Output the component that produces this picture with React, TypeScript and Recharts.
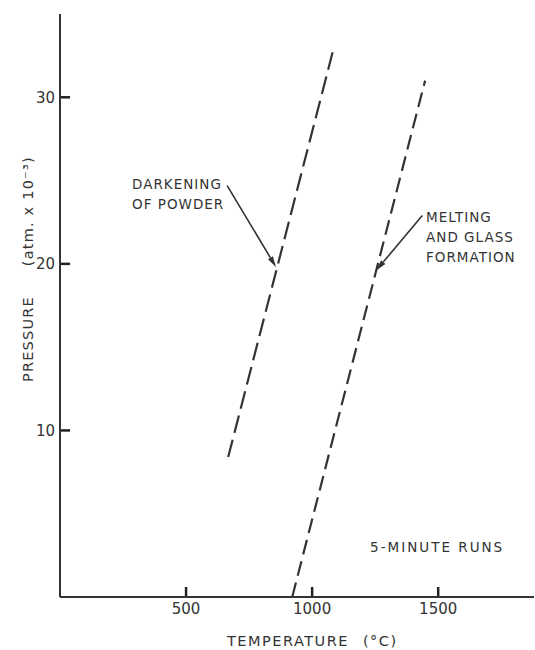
import { LineChart, Line, XAxis, YAxis, ReferenceLine, ReferenceDot } from "recharts";

// tick values
const xTicks = [500, 1000, 1500];
const yTicks = [10, 20, 30];

// boundary lines (temperature °C, pressure atm x 10^-3)
const darkening = [
  { t: 667, p: 8.4 },
  { t: 1083, p: 32.8 },
];
const melting = [
  { t: 921, p: 0 },
  { t: 1448, p: 31.0 },
];

// annotation arrows, data coords
const darkeningArrow = [
  { x: 663, y: 24.7 },
  { x: 857, y: 19.8 },
];
const meltingArrow = [
  { x: 1437, y: 22.9 },
  { x: 1254, y: 19.6 },
];

const darkeningText = ["DARKENING", "OF POWDER"];
const meltingText = ["MELTING", "AND GLASS", "FORMATION"];
const runsText = ["5-MINUTE RUNS"];

const INK = "#333";
const FONT = "DejaVu Sans";

function Arrow(props: any) {
  const { x1, y1, x2, y2 } = props;
  const a = Math.atan2(y2 - y1, x2 - x1);
  const len = 11;
  const half = 2.8;
  const bx = x2 - len * Math.cos(a);
  const by = y2 - len * Math.sin(a);
  const px = -Math.sin(a) * half;
  const py = Math.cos(a) * half;
  return (
    <g>
      <line x1={x1} y1={y1} x2={bx} y2={by} stroke={INK} strokeWidth={1.6} />
      <path d={`M${x2},${y2}L${bx + px},${by + py}L${bx - px},${by - py}Z`} fill={INK} />
    </g>
  );
}

// short inward tick mark = the whole reference segment
function TickMark(props: any) {
  const { x1, y1, x2, y2 } = props;
  return <line x1={x1} y1={y1} x2={x2} y2={y2} stroke="#222" strokeWidth={2.5} />;
}

const textBlock = (lines: string[], spacing: number) => (props: any) => (
  <text x={props.cx} y={props.cy} fill={INK} fontSize={13.5} fontFamily={FONT} letterSpacing={spacing}>
    {lines.map((l, i) => (
      <tspan key={i} x={props.cx} dy={i === 0 ? 0 : 20}>
        {l}
      </tspan>
    ))}
  </text>
);

const xLabel = () => (
  <text x={227} y={646} fill={INK} fontSize={14.5} fontFamily={FONT} letterSpacing={1.5}>
    TEMPERATURE
    <tspan dx={14}>(°C)</tspan>
  </text>
);

const yLabel = () => (
  <text
    transform="translate(33,382) rotate(-90)"
    fill={INK}
    fontSize={14.5}
    fontFamily={FONT}
    letterSpacing={1.2}
  >
    PRESSURE
    <tspan dx={30}>(atm. x 10⁻³)</tspan>
  </text>
);

export default function App() {
  return (
    <div style={{ position: "absolute", left: 0, top: 0, background: "#fff" }}>
      <LineChart width={535} height={650} margin={{ top: 14, right: 1, left: 0, bottom: 0 }}>
        <XAxis
          type="number"
          dataKey="t"
          domain={[0, 1880]}
          ticks={xTicks}
          allowDataOverflow
          height={53}
          tickLine={false}
          tickSize={0}
          tickMargin={6}
          tick={{ fill: INK, fontSize: 15, fontFamily: FONT }}
          axisLine={{ stroke: INK, strokeWidth: 2 }}
          label={xLabel}
        />
        <YAxis
          type="number"
          dataKey="p"
          domain={[0, 35]}
          ticks={yTicks}
          allowDataOverflow
          width={60}
          tickLine={false}
          tickSize={0}
          tickMargin={5}
          tick={{ fill: INK, fontSize: 15, fontFamily: FONT }}
          axisLine={{ stroke: INK, strokeWidth: 2 }}
          label={yLabel}
        />
        {xTicks.map((v) => (
          <ReferenceLine key={`xm${v}`} segment={[{ x: v, y: 0 }, { x: v, y: 0.6 }]} shape={TickMark} />
        ))}
        {yTicks.map((v) => (
          <ReferenceLine key={`ym${v}`} segment={[{ x: 0, y: v }, { x: 40, y: v }]} shape={TickMark} />
        ))}
        <Line
          data={darkening}
          dataKey="p"
          stroke={INK}
          strokeWidth={2.2}
          strokeDasharray="18 7"
          dot={false}
          isAnimationActive={false}
        />
        <Line
          data={melting}
          dataKey="p"
          stroke={INK}
          strokeWidth={2.2}
          strokeDasharray="15 7"
          dot={false}
          isAnimationActive={false}
        />
        <ReferenceLine segment={darkeningArrow} shape={Arrow} />
        <ReferenceLine segment={meltingArrow} shape={Arrow} />
        <ReferenceDot x={286} y={24.5} r={0} shape={textBlock(darkeningText, 1)} />
        <ReferenceDot x={1452} y={22.5} r={0} shape={textBlock(meltingText, 1)} />
        <ReferenceDot x={1230} y={2.7} r={0} shape={textBlock(runsText, 2)} />
      </LineChart>
    </div>
  );
}
